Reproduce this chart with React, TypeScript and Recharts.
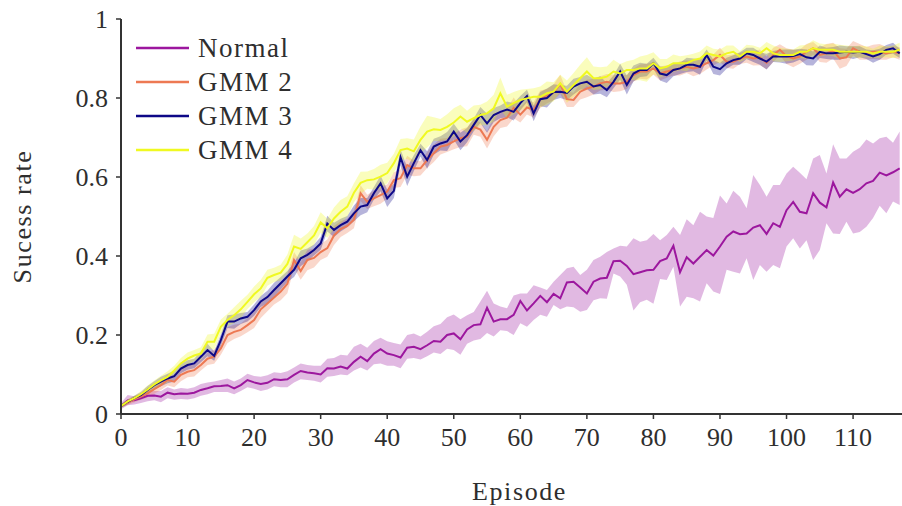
import {
  ComposedChart,
  Line,
  Area,
  XAxis,
  YAxis,
  Legend,
} from "recharts";

const FONT = '"Liberation Serif", "DejaVu Serif", serif';
const INK = "#2e2e2e";

const xTicks = [0, 10, 20, 30, 40, 50, 60, 70, 80, 90, 100, 110];
const yTicks = [0, 0.2, 0.4, 0.6, 0.8, 1];

const normal = [
  0.020, 0.034, 0.035, 0.040, 0.046, 0.047, 0.044, 0.054, 0.050, 0.052, 0.051,
  0.054, 0.061, 0.065, 0.070, 0.071, 0.073, 0.065, 0.073, 0.086, 0.080,
  0.076, 0.079, 0.088, 0.086, 0.088, 0.099, 0.109, 0.105, 0.103, 0.100,
  0.116, 0.115, 0.120, 0.115, 0.132, 0.145, 0.134, 0.153, 0.164, 0.153,
  0.149, 0.143, 0.168, 0.170, 0.164, 0.174, 0.185, 0.183, 0.200, 0.204,
  0.189, 0.214, 0.225, 0.227, 0.269, 0.234, 0.240, 0.240, 0.251, 0.286,
  0.262, 0.280, 0.299, 0.283, 0.304, 0.293, 0.333, 0.335, 0.320, 0.305,
  0.335, 0.343, 0.345, 0.387, 0.388, 0.375, 0.354, 0.359, 0.364, 0.365,
  0.387, 0.394, 0.426, 0.359, 0.397, 0.381, 0.398, 0.415, 0.401, 0.424,
  0.449, 0.462, 0.455, 0.457, 0.472, 0.478, 0.456, 0.483, 0.474, 0.516,
  0.537, 0.512, 0.508, 0.559, 0.535, 0.523, 0.586, 0.550, 0.569, 0.560,
  0.569, 0.584, 0.590, 0.611, 0.604, 0.612, 0.622,
];
const normalHi = [
  0.028, 0.048, 0.045, 0.052, 0.060, 0.058, 0.058, 0.068, 0.062, 0.066, 0.064,
  0.068, 0.076, 0.080, 0.082, 0.086, 0.090, 0.082, 0.090, 0.102, 0.096,
  0.094, 0.098, 0.106, 0.104, 0.108, 0.118, 0.128, 0.124, 0.122, 0.122,
  0.140, 0.142, 0.150, 0.148, 0.170, 0.178, 0.168, 0.185, 0.193, 0.184,
  0.180, 0.176, 0.200, 0.204, 0.196, 0.208, 0.222, 0.228, 0.245, 0.252,
  0.240, 0.250, 0.258, 0.285, 0.312, 0.280, 0.272, 0.268, 0.300, 0.305,
  0.305, 0.326, 0.320, 0.314, 0.335, 0.352, 0.369, 0.373, 0.352, 0.365,
  0.390, 0.398, 0.410, 0.419, 0.426, 0.424, 0.445, 0.436, 0.440, 0.456,
  0.440, 0.453, 0.474, 0.453, 0.493, 0.478, 0.512, 0.500, 0.496, 0.553,
  0.533, 0.565, 0.550, 0.521, 0.605, 0.580, 0.550, 0.580, 0.580, 0.609,
  0.626, 0.611, 0.594, 0.647, 0.656, 0.609, 0.683, 0.647, 0.647, 0.664,
  0.674, 0.695, 0.685, 0.698, 0.702, 0.687, 0.715,
];
const normalLo = [
  0.012, 0.022, 0.024, 0.028, 0.032, 0.035, 0.030, 0.040, 0.036, 0.038, 0.037,
  0.040, 0.046, 0.050, 0.056, 0.056, 0.056, 0.050, 0.058, 0.068, 0.064,
  0.058, 0.062, 0.070, 0.068, 0.068, 0.080, 0.088, 0.086, 0.084, 0.080,
  0.094, 0.096, 0.100, 0.098, 0.110, 0.118, 0.110, 0.126, 0.128, 0.122,
  0.122, 0.116, 0.140, 0.142, 0.138, 0.146, 0.156, 0.152, 0.165, 0.162,
  0.150, 0.178, 0.186, 0.190, 0.205, 0.196, 0.212, 0.210, 0.200, 0.230,
  0.221, 0.238, 0.251, 0.246, 0.276, 0.265, 0.272, 0.270, 0.259, 0.263,
  0.288, 0.293, 0.292, 0.356, 0.348, 0.327, 0.262, 0.283, 0.289, 0.279,
  0.342, 0.339, 0.373, 0.272, 0.297, 0.293, 0.285, 0.331, 0.310, 0.304,
  0.365, 0.360, 0.356, 0.394, 0.339, 0.377, 0.360, 0.377, 0.369, 0.424,
  0.445, 0.419, 0.440, 0.390, 0.415, 0.483, 0.457, 0.456, 0.487, 0.457,
  0.461, 0.474, 0.496, 0.527, 0.508, 0.538, 0.529,
];

const gmm2 = [
  0.020, 0.029, 0.037, 0.044, 0.052, 0.063, 0.073, 0.086, 0.082, 0.099, 0.107,
  0.111, 0.124, 0.140, 0.145, 0.166, 0.200, 0.208, 0.213, 0.225, 0.238,
  0.265, 0.280, 0.295, 0.310, 0.330, 0.390, 0.362, 0.390, 0.395, 0.410,
  0.420, 0.452, 0.468, 0.476, 0.492, 0.559, 0.537, 0.546, 0.554, 0.563,
  0.592, 0.597, 0.630, 0.622, 0.622, 0.643, 0.660, 0.677, 0.681, 0.690,
  0.698, 0.702, 0.727, 0.720, 0.694, 0.727, 0.744, 0.750, 0.775, 0.758,
  0.776, 0.770, 0.797, 0.805, 0.814, 0.835, 0.797, 0.795, 0.816, 0.824,
  0.829, 0.837, 0.841, 0.837, 0.837, 0.841, 0.858, 0.867, 0.867, 0.875,
  0.862, 0.867, 0.871, 0.875, 0.879, 0.875, 0.879, 0.888, 0.896, 0.909,
  0.892, 0.892, 0.900, 0.905, 0.900, 0.903, 0.889, 0.909, 0.922, 0.906,
  0.900, 0.905, 0.917, 0.926, 0.909, 0.913, 0.920, 0.900, 0.903, 0.926,
  0.917, 0.913, 0.917, 0.917, 0.913, 0.917, 0.913,
];
const gmm2Sd = [
  0.004, 0.006, 0.008, 0.008, 0.010, 0.012, 0.012, 0.014, 0.014, 0.016, 0.014,
  0.016, 0.014, 0.016, 0.018, 0.016, 0.020, 0.018, 0.016, 0.018, 0.020,
  0.022, 0.020, 0.018, 0.022, 0.024, 0.020, 0.022, 0.026, 0.024, 0.020,
  0.022, 0.024, 0.020, 0.018, 0.022, 0.020, 0.018, 0.020, 0.022, 0.018,
  0.020, 0.022, 0.024, 0.020, 0.018, 0.020, 0.022, 0.020, 0.018, 0.020,
  0.022, 0.024, 0.020, 0.018, 0.022, 0.024, 0.020, 0.022, 0.026, 0.020,
  0.018, 0.020, 0.022, 0.018, 0.020, 0.024, 0.020, 0.018, 0.020, 0.022,
  0.020, 0.018, 0.020, 0.022, 0.020, 0.018, 0.016, 0.018, 0.020, 0.016,
  0.018, 0.016, 0.014, 0.018, 0.016, 0.020, 0.018, 0.016, 0.014, 0.018,
  0.016, 0.018, 0.014, 0.016, 0.018, 0.020, 0.016, 0.018, 0.014, 0.020,
  0.022, 0.018, 0.020, 0.016, 0.018, 0.024, 0.020, 0.026, 0.022, 0.018,
  0.020, 0.016, 0.018, 0.020, 0.016, 0.014, 0.016,
];

const gmm3 = [
  0.020, 0.031, 0.040, 0.048, 0.061, 0.073, 0.082, 0.090, 0.096, 0.115, 0.124,
  0.128, 0.145, 0.162, 0.147, 0.187, 0.234, 0.234, 0.242, 0.246, 0.263,
  0.285, 0.296, 0.314, 0.331, 0.348, 0.365, 0.394, 0.403, 0.415, 0.432,
  0.482, 0.466, 0.478, 0.487, 0.508, 0.525, 0.529, 0.559, 0.584, 0.546,
  0.565, 0.650, 0.601, 0.635, 0.668, 0.643, 0.677, 0.685, 0.690, 0.715,
  0.690, 0.706, 0.732, 0.757, 0.736, 0.757, 0.765, 0.771, 0.765, 0.787,
  0.805, 0.761, 0.797, 0.800, 0.815, 0.816, 0.813, 0.829, 0.837, 0.841,
  0.829, 0.833, 0.820, 0.841, 0.867, 0.833, 0.862, 0.871, 0.871, 0.888,
  0.862, 0.858, 0.871, 0.875, 0.884, 0.884, 0.879, 0.909, 0.879, 0.873,
  0.888, 0.896, 0.900, 0.913, 0.909, 0.900, 0.892, 0.905, 0.906, 0.905,
  0.906, 0.911, 0.903, 0.900, 0.917, 0.913, 0.913, 0.915, 0.917, 0.915,
  0.917, 0.911, 0.905, 0.911, 0.922, 0.926, 0.913,
];
const gmm3Sd = [
  0.004, 0.006, 0.006, 0.008, 0.010, 0.010, 0.012, 0.012, 0.014, 0.012, 0.012,
  0.012, 0.014, 0.016, 0.012, 0.014, 0.016, 0.018, 0.014, 0.012, 0.014,
  0.014, 0.016, 0.018, 0.016, 0.014, 0.018, 0.020, 0.016, 0.014, 0.016,
  0.020, 0.018, 0.016, 0.014, 0.020, 0.022, 0.018, 0.016, 0.020, 0.022,
  0.018, 0.020, 0.024, 0.020, 0.016, 0.022, 0.020, 0.018, 0.024, 0.020,
  0.022, 0.018, 0.016, 0.020, 0.024, 0.018, 0.016, 0.020, 0.022, 0.018,
  0.016, 0.020, 0.018, 0.024, 0.020, 0.016, 0.018, 0.020, 0.016, 0.018,
  0.020, 0.022, 0.018, 0.016, 0.020, 0.024, 0.020, 0.018, 0.016, 0.014,
  0.018, 0.020, 0.016, 0.014, 0.018, 0.016, 0.020, 0.014, 0.018, 0.016,
  0.014, 0.012, 0.016, 0.014, 0.018, 0.016, 0.020, 0.014, 0.016, 0.018,
  0.016, 0.014, 0.020, 0.018, 0.016, 0.014, 0.016, 0.018, 0.014, 0.016,
  0.014, 0.012, 0.016, 0.014, 0.012, 0.014, 0.012,
];

const gmm4 = [
  0.020, 0.032, 0.040, 0.050, 0.062, 0.075, 0.085, 0.094, 0.110, 0.128, 0.140,
  0.148, 0.153, 0.183, 0.183, 0.221, 0.238, 0.250, 0.265, 0.284, 0.303,
  0.318, 0.345, 0.352, 0.358, 0.380, 0.424, 0.418, 0.435, 0.452, 0.485,
  0.470, 0.495, 0.512, 0.525, 0.560, 0.585, 0.592, 0.594, 0.601, 0.610,
  0.635, 0.668, 0.672, 0.665, 0.694, 0.715, 0.721, 0.719, 0.727, 0.738,
  0.753, 0.740, 0.749, 0.757, 0.761, 0.774, 0.812, 0.778, 0.787, 0.795,
  0.799, 0.803, 0.803, 0.812, 0.816, 0.837, 0.816, 0.833, 0.850, 0.867,
  0.850, 0.850, 0.854, 0.867, 0.862, 0.871, 0.871, 0.875, 0.875, 0.888,
  0.875, 0.879, 0.888, 0.888, 0.888, 0.896, 0.900, 0.913, 0.909, 0.905,
  0.913, 0.917, 0.905, 0.917, 0.917, 0.913, 0.926, 0.913, 0.909, 0.909,
  0.909, 0.917, 0.917, 0.926, 0.922, 0.922, 0.922, 0.917, 0.917, 0.917,
  0.917, 0.917, 0.913, 0.917, 0.917, 0.917, 0.922,
];
const gmm4Sd = [
  0.004, 0.006, 0.006, 0.008, 0.010, 0.010, 0.012, 0.014, 0.012, 0.014, 0.016,
  0.014, 0.016, 0.018, 0.020, 0.018, 0.016, 0.020, 0.022, 0.018, 0.020,
  0.022, 0.020, 0.018, 0.020, 0.024, 0.030, 0.026, 0.022, 0.024, 0.026,
  0.024, 0.028, 0.030, 0.026, 0.024, 0.028, 0.022, 0.026, 0.030, 0.026,
  0.024, 0.028, 0.026, 0.030, 0.034, 0.040, 0.030, 0.028, 0.032, 0.036,
  0.030, 0.028, 0.032, 0.026, 0.030, 0.034, 0.040, 0.030, 0.028, 0.026,
  0.024, 0.022, 0.026, 0.030, 0.024, 0.022, 0.028, 0.030, 0.034, 0.036,
  0.030, 0.028, 0.026, 0.030, 0.024, 0.022, 0.026, 0.030, 0.034, 0.028,
  0.024, 0.020, 0.022, 0.018, 0.020, 0.016, 0.018, 0.020, 0.016, 0.018,
  0.020, 0.016, 0.014, 0.018, 0.016, 0.014, 0.016, 0.020, 0.018, 0.016,
  0.014, 0.016, 0.018, 0.020, 0.016, 0.014, 0.016, 0.018, 0.016, 0.014,
  0.016, 0.014, 0.012, 0.016, 0.014, 0.016, 0.018,
];

const episodes = normal.map((_, i) => i);

const series = [
  { key: "normal", name: "Normal", color: "#9c179e" },
  { key: "gmm2", name: "GMM 2", color: "#ed7953" },
  { key: "gmm3", name: "GMM 3", color: "#0d0887" },
  { key: "gmm4", name: "GMM 4", color: "#f0f921" },
];

const data = episodes.map((ep, i) => ({
  episode: ep,
  normal: normal[i],
  normalBand: [normalLo[i], normalHi[i]],
  gmm2: gmm2[i],
  gmm2Band: [gmm2[i] - gmm2Sd[i], gmm2[i] + gmm2Sd[i]],
  gmm3: gmm3[i],
  gmm3Band: [gmm3[i] - gmm3Sd[i], gmm3[i] + gmm3Sd[i]],
  gmm4: gmm4[i],
  gmm4Band: [gmm4[i] - gmm4Sd[i], gmm4[i] + gmm4Sd[i]],
}));

function LegendBox() {
  return (
    <div
      style={{
        fontFamily: FONT,
        fontSize: 27,
        color: INK,
        letterSpacing: 1.5,
      }}
    >
      {series.map((s) => (
        <div
          key={s.key}
          style={{ display: "flex", alignItems: "center", height: 34 }}
        >
          <svg width={53} height={4} style={{ marginRight: 9 }}>
            <line x1={0} y1={2} x2={53} y2={2} stroke={s.color} strokeWidth={2.5} />
          </svg>
          <span>{s.name}</span>
        </div>
      ))}
    </div>
  );
}

export default function App() {
  const tickStyle = { fill: INK, fontSize: 26, fontFamily: FONT };
  const labelStyle = {
    fill: INK,
    fontSize: 26,
    fontFamily: FONT,
    letterSpacing: 1.6,
  };
  return (
    <div style={{ position: "absolute", left: 0, top: 0, background: "#fff" }}>
      <ComposedChart
        width={902}
        height={506}
        data={data}
        margin={{ top: 19, right: 0, left: 0, bottom: 0 }}
      >
        <XAxis
          dataKey="episode"
          type="number"
          domain={[0, 117.35]}
          ticks={xTicks}
          height={92}
          tick={tickStyle}
          tickSize={5}
          tickMargin={9}
          axisLine={{ stroke: "#333", strokeWidth: 2 }}
          tickLine={{ stroke: "#333", strokeWidth: 1.5 }}
          label={{
            value: "Episode",
            position: "insideBottom",
            offset: 6,
            dx: 8,
            style: labelStyle,
          }}
        />
        <YAxis
          type="number"
          domain={[0, 1]}
          ticks={yTicks}
          width={121}
          tick={tickStyle}
          tickSize={5}
          tickMargin={8}
          axisLine={{ stroke: "#333", strokeWidth: 2 }}
          tickLine={{ stroke: "#333", strokeWidth: 1.5 }}
          label={{
            value: "Sucess rate",
            angle: -90,
            position: "insideLeft",
            offset: 22,
            style: { ...labelStyle, textAnchor: "middle" },
          }}
        />

        {series.map((s) => (
          <Area
            key={s.key + "Band"}
            type="linear"
            dataKey={s.key + "Band"}
            stroke="none"
            fill={s.color}
            fillOpacity={0.3}
            dot={false}
            activeDot={false}
            legendType="none"
            isAnimationActive={false}
          />
        ))}
        {series.map((s) => (
          <Line
            key={s.key}
            type="linear"
            dataKey={s.key}
            name={s.name}
            stroke={s.color}
            strokeWidth={2}
            dot={false}
            activeDot={false}
            isAnimationActive={false}
          />
        ))}

        <Legend
          layout="vertical"
          align="center"
          verticalAlign="middle"
          content={<LegendBox />}
          wrapperStyle={{ left: 136, top: 31, width: "auto" }}
        />
      </ComposedChart>
    </div>
  );
}
